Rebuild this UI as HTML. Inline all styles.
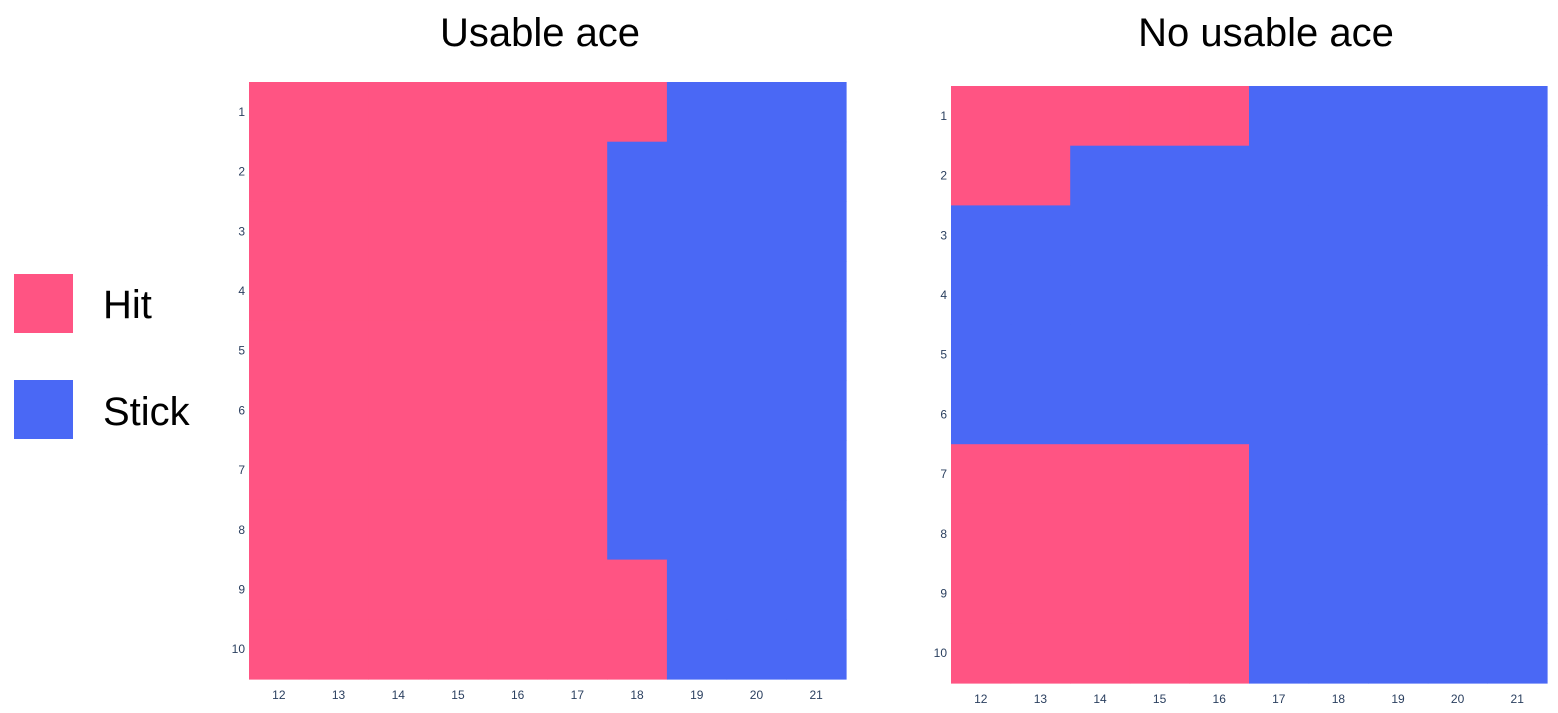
<!DOCTYPE html>
<html><head><meta charset="utf-8"><style>
body{margin:0;background:#fff;width:1558px;height:708px;overflow:hidden;font-family:"Liberation Sans",sans-serif}
</style></head><body>
<svg id="chart" width="1558" height="708">
<text x="540" y="46" text-anchor="middle" font-size="40" fill="#000">Usable ace</text>
<text x="1266" y="46" text-anchor="middle" font-size="40" fill="#000">No usable ace</text>
<rect x="14" y="274" width="59" height="59" fill="#ff5483"/>
<text x="103" y="318" font-size="40">Hit</text>
<rect x="14" y="380" width="59" height="59" fill="#4a68f5"/>
<text x="103" y="425" font-size="40">Stick</text>
<g id="h1"></g><g id="h2"></g>
</svg>
<script>
const playerSums=[12,13,14,15,16,17,18,19,20,21];
const dealerCards=[1,2,3,4,5,6,7,8,9,10];
// 1 = hit, 0 = stick; rows = dealer card, cols = player sum
const usableAce=[
[1,1,1,1,1,1,1,0,0,0],
[1,1,1,1,1,1,0,0,0,0],
[1,1,1,1,1,1,0,0,0,0],
[1,1,1,1,1,1,0,0,0,0],
[1,1,1,1,1,1,0,0,0,0],
[1,1,1,1,1,1,0,0,0,0],
[1,1,1,1,1,1,0,0,0,0],
[1,1,1,1,1,1,0,0,0,0],
[1,1,1,1,1,1,1,0,0,0],
[1,1,1,1,1,1,1,0,0,0]];
const noUsableAce=[
[1,1,1,1,1,0,0,0,0,0],
[1,1,0,0,0,0,0,0,0,0],
[0,0,0,0,0,0,0,0,0,0],
[0,0,0,0,0,0,0,0,0,0],
[0,0,0,0,0,0,0,0,0,0],
[0,0,0,0,0,0,0,0,0,0],
[1,1,1,1,1,0,0,0,0,0],
[1,1,1,1,1,0,0,0,0,0],
[1,1,1,1,1,0,0,0,0,0],
[1,1,1,1,1,0,0,0,0,0]];
const NS="http://www.w3.org/2000/svg";
function draw(gid,data,x0,y0,w,h,prefix){
  const g=document.getElementById(gid);
  const cw=w/playerSums.length, ch=h/dealerCards.length;
  const xs=i=>x0+i*cw, ys=j=>y0+j*ch;
  data.forEach((row,j)=>row.forEach((v,i)=>{
    const r=document.createElementNS(NS,"rect");
    r.setAttribute("x",xs(i));r.setAttribute("y",ys(j));
    r.setAttribute("width",cw+0.6);r.setAttribute("height",ch+0.6);
    r.setAttribute("fill",v?"#ff5483":"#4a68f5");
    
    
    g.appendChild(r);
  }));
  playerSums.forEach((s,i)=>{
    const t=document.createElementNS(NS,"text");
    t.setAttribute("x",xs(i)+cw/2);t.setAttribute("y",y0+h+20);
    t.setAttribute("text-anchor","middle");t.setAttribute("font-size","12");t.setAttribute("fill","#2a3f5f");
    t.textContent=s;
    
    
    g.appendChild(t);
  });
  dealerCards.forEach((d,j)=>{
    const t=document.createElementNS(NS,"text");
    t.setAttribute("x",x0-4);t.setAttribute("y",ys(j)+ch/2+4);
    t.setAttribute("text-anchor","end");t.setAttribute("font-size","12");t.setAttribute("fill","#2a3f5f");
    t.textContent=d;
    
    
    g.appendChild(t);
  });
}
draw("h1",usableAce,249,82,597,597,"usable-ace");
draw("h2",noUsableAce,951,86,596,597,"no-usable-ace");
</script>
</body></html>
